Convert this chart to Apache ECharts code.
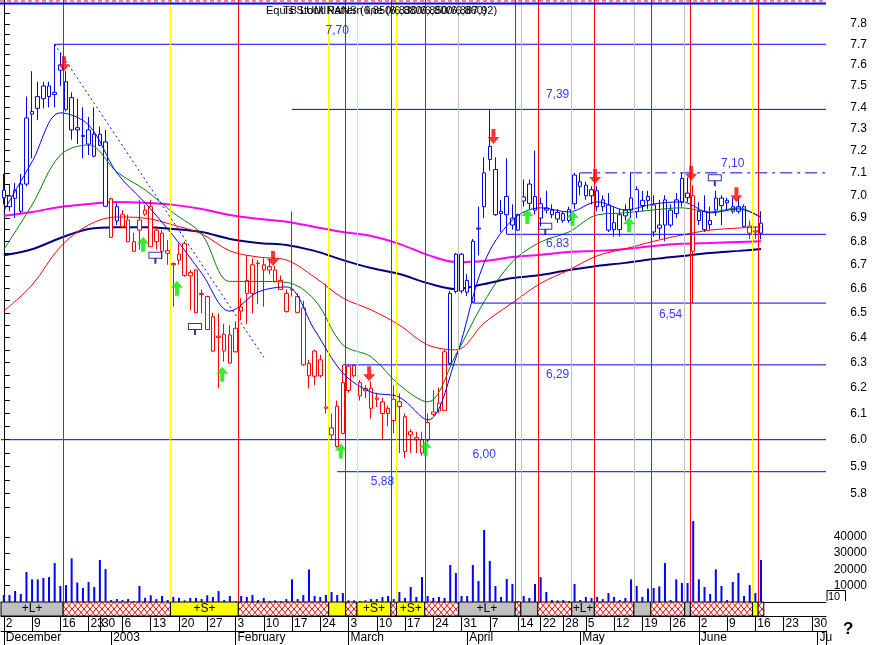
<!DOCTYPE html>
<html>
<head>
<meta charset="utf-8">
<script src="https://cdn.jsdelivr.net/npm/echarts@6.0.0/dist/echarts.min.js"></script>
<style>
html,body{margin:0;padding:0;background:#fff;}
#chart{width:872px;height:645px;}
</style>
</head>
<body>
<div id="chart"></div>
<script>
// ================= DATA =================
const FIRST_DAY = '2002-12-02';
const LAST_AXIS_DAY = '2003-07-02';
const HOLIDAYS = ['2002-12-24','2002-12-25','2002-12-26','2003-01-01','2003-04-18','2003-04-21','2003-05-01'];

// daily bars from 2002-12-02, each [open, close, low, high]
const candles = [
[7.023,6.989,6.96,7.095],[6.95,6.997,6.93,7.05],[7.023,6.987,6.90,7.055],[6.93,7.05,6.92,7.095],[7.05,7.35,7.04,7.45],
[7.368,7.38,7.165,7.57],[7.395,7.45,7.34,7.52],[7.44,7.50,7.395,7.52],[7.50,7.45,7.40,7.52],[7.46,7.47,7.40,7.70],
[7.60,7.575,7.50,7.66],[7.52,7.39,7.38,7.57],[7.445,7.295,7.25,7.47],[7.305,7.295,7.23,7.44],[7.27,7.265,7.165,7.40],
[7.23,7.295,7.18,7.355],[7.175,7.275,7.17,7.40],[7.275,7.225,7.22,7.31],[7.24,6.952,6.95,7.295],[6.985,6.817,6.815,6.99],
[6.888,6.95,6.87,6.965],[6.915,6.863,6.857,6.935],[6.892,6.798,6.797,6.915],[6.798,6.757,6.755,6.836],[6.848,6.892,6.764,6.98],
[6.935,6.917,6.91,6.957],[6.95,6.777,6.776,6.98],[6.848,6.798,6.764,6.865],[6.835,6.757,6.723,6.848],[6.76,6.749,6.70,6.805],
[6.705,6.70,6.525,6.71],[6.72,6.745,6.70,6.79],[6.79,6.655,6.65,6.80],[6.667,6.653,6.51,6.678],[6.678,6.50,6.498,6.68],
[6.58,6.575,6.498,6.597],[6.567,6.432,6.43,6.57],[6.345,6.484,6.34,6.50],[6.405,6.40,6.198,6.498],[6.413,6.345,6.303,6.455],
[6.297,6.41,6.295,6.45],[6.342,6.437,6.34,6.465],[6.507,6.524,6.47,6.56],[6.58,6.634,6.455,6.74],[6.58,6.70,6.498,6.727],
[6.707,6.705,6.537,6.72],[6.70,6.678,6.525,6.727],[6.692,6.678,6.66,6.727],[6.678,6.63,6.625,6.695],[6.634,6.597,6.595,6.655],
[6.506,6.58,6.50,6.597],[6.597,6.595,6.567,6.93],[6.567,6.502,6.50,6.58],[6.52,6.29,6.287,6.55],[6.296,6.247,6.197,6.31],
[6.245,6.345,6.21,6.35],[6.31,6.247,6.24,6.33],[6.125,6.12,6.10,6.62],[6.045,6.018,6.0,6.10],[5.974,6.128,5.97,6.15],
[6.024,6.22,6.02,6.29],[6.189,6.285,6.18,6.29],[6.287,6.247,6.24,6.29],[6.22,6.168,6.15,6.23],[6.197,6.188,6.16,6.21],
[6.12,6.198,6.08,6.225],[6.16,6.155,6.125,6.18],[6.145,6.10,6.0,6.16],[6.12,6.10,6.05,6.13],[6.073,6.155,6.024,6.21],
[6.145,6.127,5.95,6.178],[6.088,5.955,5.93,6.10],[6.018,6.03,5.95,6.04],[6.008,5.999,5.95,6.03],[6.0,5.95,5.94,6.03],
[5.999,6.065,5.99,6.10],[6.106,6.097,6.09,6.19],[6.11,6.14,6.10,6.20],[6.112,6.342,6.11,6.35],[6.296,6.58,6.29,6.59],
[6.588,6.745,6.58,6.75],[6.745,6.59,6.58,6.75],[6.585,6.634,6.57,6.66],[6.545,6.80,6.54,6.81],[6.857,6.853,6.74,6.95],
[6.95,7.10,6.90,7.17],[7.16,7.22,7.11,7.39],[7.115,6.915,6.91,7.17],[6.93,6.92,6.84,6.98],[6.915,6.995,6.83,7.165],
[6.87,6.90,6.85,6.96],[6.848,6.915,6.845,6.92],[6.975,6.993,6.95,7.07],[6.965,7.05,6.94,7.07],[6.935,6.995,6.915,7.20],
[6.963,6.90,6.864,6.99],[6.945,6.935,6.92,7.02],[6.935,6.915,6.90,6.96],[6.925,6.896,6.88,6.94],[6.89,6.92,6.88,6.93],
[6.937,6.89,6.88,6.95],[6.963,7.09,6.94,7.10],[7.04,7.06,7.0,7.10],[7.045,6.998,6.98,7.06],[6.998,7.025,6.96,7.04],
[7.02,6.95,6.93,7.04],[6.95,6.98,6.93,7.0],[6.958,6.848,6.84,7.01],[6.85,6.88,6.82,6.95],[6.915,6.85,6.82,6.94],
[6.91,6.935,6.89,6.96],[6.935,6.988,6.90,7.10],[6.928,7.025,6.90,7.04],[6.955,6.978,6.93,7.02],[6.977,6.995,6.94,7.02],
[6.958,6.84,6.82,7.0],[6.857,6.87,6.81,6.98],[6.87,6.98,6.80,7.0],[6.935,6.87,6.86,6.96],[6.92,6.98,6.90,7.01],
[6.97,7.075,6.95,7.10],[6.99,7.01,6.97,7.08],[6.998,6.757,6.54,7.045],[6.89,6.93,6.87,6.97],[6.93,6.85,6.84,7.0],
[6.872,6.89,6.85,6.95],[6.935,6.988,6.91,7.02],[6.955,6.988,6.87,7.0],[6.967,6.978,6.94,6.99],[6.95,6.93,6.92,6.99],
[6.95,6.93,6.92,6.99],[6.95,6.864,6.86,6.96],[6.866,6.835,6.81,6.89],[6.845,6.84,6.81,6.865],[6.835,6.878,6.808,6.93]
];
// b = blue bar, r = red bar (one letter per day)
const candleColor =
  'bbbbbbbbbbbbbbbbbbb' + 'r' + 'b' +
  'rrrrrrrrrrrrrrrrrrrrrrrrrrrrrrrrrrrrrrrrrrrrrrrrrrrrrrrrrr' +
  'bbbbbbbbbbbbbbbbbbbbbbbbbbbbbbbbbbbbbbbbbbb' + 'r' + 'bbbbbbbbb' + 'rr' + 'b';

const volumes = [
4300,4300,6750,4900,18400,13900,13900,14700,15300,23900,
9800,10400,26800,11900,8600,12300,9200,25800,20200,1200,
1800,1200,1800,600,9800,2500,4100,1800,3700,1200,
3100,2500,1000,2500,2500,1800,4100,3100,6700,1200,
3700,600,3700,3100,4300,1200,2500,600,1000,600,
1800,13900,1800,4300,20000,3700,3100,4300,6100,4300,
5500,1000,1000,600,1000,1800,1800,3100,3700,1800,
6100,2500,9200,3100,15300,3700,2500,3100,2500,22700,
17800,3700,3700,22700,12900,44200,25200,9800,3100,14100,
11000,600,3700,2500,11000,15300,6100,1200,1000,1200,
600,11000,1200,3100,2500,3100,1800,5500,3100,1200,
2500,13900,9800,3100,8200,8600,9600,23900,1200,13900,
11700,11700,49700,13900,9200,4900,20000,9800,1200,12300,
17800,3700,10400,5500,25800
];

// moving averages, read at these days
const MA_DAYS = ['2002-12-02','2002-12-09','2002-12-16','2002-12-23','2003-01-03','2003-01-10','2003-01-17','2003-01-24',
 '2003-01-31','2003-02-07','2003-02-14','2003-02-21','2003-02-28','2003-03-07','2003-03-14','2003-03-21','2003-03-28',
 '2003-04-04','2003-04-11','2003-04-22','2003-04-29','2003-05-07','2003-05-14','2003-05-21','2003-05-28','2003-06-04',
 '2003-06-11','2003-06-17'];
const maBlue  = [6.932,7.15,7.374,7.318,7.10,6.967,6.823,6.665,6.507,6.586,6.607,6.43,6.258,6.183,6.163,6.075,6.318,6.708,6.892,6.945,6.927,6.971,6.936,6.962,6.971,6.923,6.94,6.905];
const maGreen = [6.765,6.958,7.18,7.226,7.104,7.024,6.923,6.831,6.63,6.63,6.626,6.553,6.37,6.322,6.211,6.145,6.33,6.546,6.712,6.797,6.84,6.914,6.923,6.936,6.945,6.927,6.945,6.90];
const maRed   = [6.507,6.615,6.776,6.87,6.905,6.90,6.87,6.832,6.759,6.733,6.72,6.648,6.561,6.512,6.45,6.37,6.35,6.458,6.541,6.622,6.678,6.738,6.768,6.80,6.827,6.848,6.857,6.862];
const maNavy  = [6.74,6.766,6.814,6.853,6.861,6.861,6.853,6.84,6.81,6.793,6.784,6.759,6.72,6.686,6.661,6.623,6.598,6.619,6.644,6.657,6.678,6.695,6.708,6.724,6.737,6.75,6.759,6.767];
const maPink  = [6.91,6.927,6.949,6.962,6.971,6.967,6.958,6.94,6.914,6.897,6.884,6.862,6.84,6.823,6.789,6.742,6.712,6.716,6.733,6.742,6.754,6.759,6.767,6.78,6.789,6.793,6.797,6.80];

// system state changes: L = long (+L+), S = short (+S+), X = out
const signals = [
 ['2002-12-02','L'],['2002-12-17','X'],['2003-01-17','S'],['2003-02-04','X'],['2003-02-26','S'],['2003-03-03','X'],
 ['2003-03-05','S'],['2003-03-13','X'],['2003-03-14','S'],['2003-03-21','X'],['2003-03-31','L'],['2003-04-14','X'],
 ['2003-04-15','L'],['2003-04-22','X'],['2003-04-30','L'],['2003-05-07','X'],['2003-05-16','L'],['2003-05-21','X'],
 ['2003-05-29','L'],['2003-05-30','X'],['2003-06-16','S'],['2003-06-17','X']
];
const sellArrows = [['2002-12-17',7.57],['2003-02-12',6.695],['2003-03-07',6.225],['2003-04-08',7.23],['2003-05-07',7.05],['2003-05-30',7.065],['2003-06-11',6.97]];
const buyArrows  = [['2003-01-10',6.82],['2003-01-20',6.633],['2003-01-30',6.283],['2003-02-28',5.986],['2003-03-21',5.996],['2003-04-16',6.94],['2003-04-30',6.932],['2003-05-15',6.904]];
const exitFlags  = [['2003-01-14',6.704],['2003-01-23',6.41],['2003-04-23',6.828],['2003-06-05',7.04]];

// support / resistance levels
const levelPrices = [7.70, 7.39, 7.10, 6.83, 6.54, 6.29, 6.00, 5.88];
const levelFrom   = ['2002-12-13','2003-02-17','2003-05-02','2003-04-10','2003-04-02','2003-02-28',null,'2003-02-27'];
const levelDashed = [false,false,true,false,false,false,false,false];
const levelText   = ['7,70','7,39','7,10','6,83','6,54','6,29','6,00','5,88'];
const levelTextAt = [['2003-02-27',7.764],['2003-04-25',7.458],['2003-06-10',7.14],['2003-04-25',6.789],['2003-05-26',6.491],['2003-04-25',6.25],['2003-04-04',5.942],['2003-03-11',5.842]];
const trendLine = [['2002-12-13',7.70],['2003-02-10',6.321]];

const priceLabels = [5.8,5.9,6.0,6.1,6.2,6.3,6.4,6.5,6.6,6.7,6.8,6.9,7.0,7.1,7.2,7.3,7.4,7.5,7.6,7.7,7.8];
const priceTicks  = [5.75,5.8,5.85,5.9,5.95,6.0,6.05,6.1,6.15,6.2,6.25,6.3,6.35,6.4,6.45,6.5,6.55,6.6,6.65,6.7,6.75,6.8,6.85,6.9,6.95,7.0,7.05,7.1,7.15,7.2,7.25,7.3,7.35,7.4,7.45,7.5,7.55,7.6,7.65,7.7,7.75,7.8,7.85,7.9];
const volumeLabels = [10000,20000,30000,40000];
const MONTH_LABELS = {'2002-12':'December','2003-01':'2003','2003-02':'February','2003-03':'March','2003-04':'April','2003-05':'May','2003-06':'June','2003-07':'Ju'};

// ================= BUILD =================
const BLUE='#0000ff', RED='#ff0000', NAVY='#000080', PINK='#ff00ff', GREEN='#008000', LIME='#00e800', GREY='#c0c0c0', YELLOW='#ffff00';
const FONT = '"Liberation Sans", Arial, sans-serif';

const dates = [];
(function(){
  const t0 = Date.parse(FIRST_DAY+'T00:00:00Z'), t1 = Date.parse(LAST_AXIS_DAY+'T00:00:00Z');
  for (let t=t0; t<=t1; t+=86400000) {
    const d = new Date(t), wd = d.getUTCDay(), s = d.toISOString().slice(0,10);
    if (wd>0 && wd<6 && HOLIDAYS.indexOf(s)<0) dates.push(s);
  }
})();
const N = dates.length;
const idx = d => dates.indexOf(d);
const wday = s => new Date(s+'T00:00:00Z').getUTCDay();
const weekStart = dates.map((s,i)=> i===0 || wday(s) <= wday(dates[i-1]));
const monthStart = dates.map((s,i)=> i===0 || s.slice(0,7)!==dates[i-1].slice(0,7));
const LN = Math.log;
const PRICE_MIN = 5.7036, PRICE_MAX = 7.918, VOL_MAX = 50300;
const LAST_BAR = dates[candles.length-1];

// crosshatch pattern
const pat = document.createElement('canvas'); pat.width = 6; pat.height = 7;
(function(){ const g = pat.getContext('2d'); g.fillStyle='#fff'; g.fillRect(0,0,6,7);
  g.strokeStyle=RED; g.lineWidth=1; g.beginPath(); g.moveTo(0,0); g.lineTo(6,7); g.moveTo(6,0); g.lineTo(0,7); g.stroke(); })();
const BAND_FILL = {L: GREY, S: YELLOW, X: {image: pat, repeat: 'repeat'}};
const LINE_COLOR = {L: GREY, S: YELLOW, X: RED};

const bandAreas = [], signalLines = [];
signals.forEach((s,k)=>{
  const a = idx(s[0]);
  const b = k+1<signals.length ? idx(signals[k+1][0]) : idx(LAST_BAR)+1;
  bandAreas.push([
    {xAxis: a-0.5, itemStyle:{color: BAND_FILL[s[1]], borderColor:'#000', borderWidth:1},
     label:{show: s[1]!=='X' && b-a>=4, formatter: '+'+s[1]+'+', position:'inside', color:'#000', fontSize:12, fontFamily:FONT}},
    {xAxis: b-0.5}
  ]);
  if (k>0) signalLines.push({xAxis: a-0.5, lineStyle:{color: LINE_COLOR[s[1]], width:1, type:'solid'}});
});

const candleData = candles.map((c,i)=>{
  const col = candleColor[i]==='r' ? RED : BLUE;
  return {value:[LN(c[0]),LN(c[1]),LN(c[2]),LN(c[3])],
          itemStyle:{color:'#ffffff', color0:col, borderColor:col, borderColor0:col, borderWidth:1}};
});

const maSeries = (vals,color,width,z)=>({
  type:'line', xAxisIndex:0, yAxisIndex:0, data: MA_DAYS.map((d,k)=>[d, LN(vals[k])]),
  showSymbol:false, smooth:0.35, lineStyle:{color, width}, itemStyle:{color}, z, silent:true, animation:false
});

// each level as its own straight line series on the hidden value x-axis
const levelSeries = levelPrices.map((p,k)=>({
  type:'line', xAxisIndex:1, yAxisIndex:0, showSymbol:false, silent:true, z:4, animation:false,
  data:[[levelFrom[k]===null ? -0.5 : idx(levelFrom[k]), LN(p)], [N-0.5, LN(p)]],
  lineStyle:{color:BLUE, width:1, type: levelDashed[k] ? [12,5,3,5] : 'solid'},
  itemStyle:{color:BLUE}
}));

const DOWN = 'path://M4,0L8,0L8,8L12,8L6,15L0,8L4,8Z';
const UP   = 'path://M6,0L12,7L8,7L8,15L4,15L4,7L0,7Z';
const FLAG = 'path://M0,0L14,0L14,7L0,7Z M1,1L1,6L13,6L13,1Z M6,7L8,7L8,12L6,12Z';

const chart = echarts.init(document.getElementById('chart'), null, {renderer:'canvas'});
const baseGrid = {left:1, right:46, containLabel:false, outerBoundsMode:'none', show:false};
const hiddenValX = g => ({type:'value', gridIndex:g, min:-0.5, max:N-0.5, show:false});

chart.setOption({
  animation:false,
  backgroundColor:'#fff',
  textStyle:{fontFamily:FONT},
  grid:[
    Object.assign({}, baseGrid, {top:0, height:520}),
    Object.assign({}, baseGrid, {top:520, height:82}),
    Object.assign({}, baseGrid, {top:602, height:14}),
    Object.assign({}, baseGrid, {top:631, height:14})
  ],
  xAxis:[
    {type:'category', gridIndex:0, data:dates, show:false},
    hiddenValX(0),
    {type:'category', gridIndex:1, data:dates, axisLine:{show:true, onZero:false, lineStyle:{color:'#000'}}, axisTick:{show:false}, axisLabel:{show:false}},
    hiddenValX(1),
    {type:'category', gridIndex:2, data:dates, position:'bottom',
     axisLine:{show:true, onZero:false, lineStyle:{color:'#000'}},
     axisTick:{show:true, alignWithLabel:true, interval:(i)=>weekStart[i], length:15, lineStyle:{color:'#000'}},
     axisLabel:{show:true, interval:(i)=>weekStart[i], hideOverlap:false, formatter:(v)=>String(+v.slice(8)),
       align:'left', padding:[0,0,0,2], margin:2, color:'#000', fontSize:12, fontFamily:FONT}},
    hiddenValX(2),
    {type:'category', gridIndex:3, data:dates, position:'top',
     axisLine:{show:true, onZero:false, lineStyle:{color:'#000'}},
     axisTick:{show:true, inside:true, alignWithLabel:true, interval:(i)=>monthStart[i], length:14, lineStyle:{color:'#000'}},
     axisLabel:{show:true, inside:true, interval:(i)=>monthStart[i], hideOverlap:false, formatter:(v)=>MONTH_LABELS[v.slice(0,7)],
       align:'left', padding:[0,0,0,2], margin:1, color:'#000', fontSize:12, fontFamily:FONT}}
  ],
  yAxis:[
    {type:'value', gridIndex:0, position:'right', min:LN(PRICE_MIN), max:LN(PRICE_MAX), scale:true,
     axisLine:{show:true, lineStyle:{color:'#000'}},
     axisTick:{show:true, customValues: priceTicks.map(LN), length:6, lineStyle:{color:'#000'}},
     axisLabel:{show:true, customValues: priceLabels.map(LN), formatter:(v)=>Math.exp(v).toFixed(1),
       margin:41, align:'right', color:'#000', fontSize:12, fontFamily:FONT},
     splitLine:{show:false}},
    {type:'value', gridIndex:1, position:'right', min:0, max:VOL_MAX,
     axisLine:{show:true, lineStyle:{color:'#000'}},
     axisTick:{show:true, customValues: volumeLabels, length:6, lineStyle:{color:'#000'}},
     axisLabel:{show:true, customValues: volumeLabels, formatter:(v)=>String(v),
       margin:41, align:'right', color:'#000', fontSize:12, fontFamily:FONT},
     splitLine:{show:false}},
    {type:'value', gridIndex:2, position:'right', min:0, max:1, axisLine:{show:true, lineStyle:{color:'#000'}}, axisTick:{show:false}, axisLabel:{show:false}, splitLine:{show:false}},
    {type:'value', gridIndex:3, position:'right', min:0, max:1, axisLine:{show:true, lineStyle:{color:'#000'}}, axisTick:{show:false}, axisLabel:{show:false}, splitLine:{show:false}}
  ],
  series:[
    // vertical signal lines (price + volume panels)
    {type:'line', xAxisIndex:1, yAxisIndex:0, data:[], z:1, silent:true,
     markLine:{symbol:['none','none'], silent:true, label:{show:false}, data:signalLines, animation:false}},
    {type:'line', xAxisIndex:3, yAxisIndex:1, data:[], z:1, silent:true,
     markLine:{symbol:['none','none'], silent:true, label:{show:false}, data:signalLines, animation:false}},
    // candles
    {type:'candlestick', xAxisIndex:0, yAxisIndex:0, data:candleData, barWidth:4, z:3, silent:true},
    // moving averages
    maSeries(maPink, PINK, 2, 2),
    maSeries(maNavy, NAVY, 2, 2),
    maSeries(maRed, RED, 1, 4),
    maSeries(maGreen, GREEN, 1, 4),
    maSeries(maBlue, BLUE, 1, 4),
    // support/resistance
    ...levelSeries,
    // dotted trend line
    {type:'line', xAxisIndex:0, yAxisIndex:0, data: trendLine.map(p=>[p[0], LN(p[1])]), showSymbol:false,
     lineStyle:{color:BLUE, width:1, type:[2,3]}, z:4, silent:true},
    // level labels
    {type:'scatter', xAxisIndex:0, yAxisIndex:0, symbolSize:1, itemStyle:{color:'rgba(0,0,0,0)'}, z:6, silent:true,
     data: levelTextAt.map((p,k)=>({value:[p[0], LN(p[1])], label:{show:true, position:'inside', formatter: levelText[k],
       color:BLUE, fontSize:12, fontFamily:FONT}}))},
    // arrows and flags
    {type:'scatter', xAxisIndex:0, yAxisIndex:0, symbol:DOWN, symbolSize:[12,15], symbolOffset:[-2,'-50%'],
     itemStyle:{color:RED}, z:7, silent:true, data: sellArrows.map(p=>[p[0], LN(p[1])])},
    {type:'scatter', xAxisIndex:0, yAxisIndex:0, symbol:UP, symbolSize:[12,15], symbolOffset:[-2,'50%'],
     itemStyle:{color:LIME}, z:7, silent:true, data: buyArrows.map(p=>[p[0], LN(p[1])])},
    {type:'scatter', xAxisIndex:0, yAxisIndex:0, symbol:FLAG, symbolSize:[14,12], symbolOffset:[-1,'-50%'],
     itemStyle:{color:NAVY}, z:7, silent:true, data: exitFlags.map(p=>[p[0], LN(p[1])])},
    // volume
    {type:'bar', xAxisIndex:2, yAxisIndex:1, data:volumes, barWidth:2, itemStyle:{color:BLUE}, z:3, silent:true},
    // signal band
    {type:'line', xAxisIndex:5, yAxisIndex:2, data:[], silent:true,
     markArea:{silent:true, data:bandAreas, animation:false}}
  ],
  graphic:[
    {type:'line', shape:{x1:0, y1:1, x2:826, y2:1}, style:{stroke:RED, lineWidth:1, lineDash:[4,3]}, z:10},
    {type:'line', shape:{x1:0, y1:3.5, x2:826, y2:3.5}, style:{stroke:BLUE, lineWidth:2}, z:10},
    {type:'text', x:266, y:5, style:{text:'Equis Stock Pattern line (6,830/6,850/6,887,92)', font:'11px '+FONT, fill:'#000'}, z:10},
    {type:'text', x:283, y:5, style:{text:'TB LUMINANS (6,850/6,880/6,800/6,860)', font:'11px '+FONT, fill:'#000'}, z:10},
    {type:'text', x:828, y:591, style:{text:'10', font:'11px '+FONT, fill:'#000'}, z:10},
    {type:'polyline', shape:{points:[[827,601],[827,590.5],[845.5,590.5],[845.5,601]]}, style:{stroke:'#000', fill:null, lineWidth:1}, z:10},
    {type:'text', x:843, y:621, style:{text:'?', font:'bold 17px '+FONT, fill:'#000'}, z:10}
  ]
});
</script>
</body>
</html>
